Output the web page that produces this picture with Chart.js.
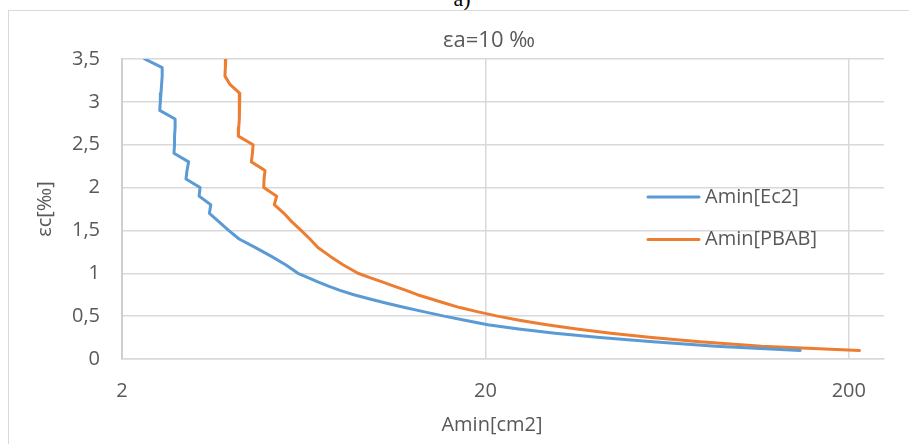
<!DOCTYPE html>
<html>
<head>
<meta charset="utf-8">
<script src="https://cdn.jsdelivr.net/npm/chart.js@4"></script>
<style>
  html, body { margin: 0; padding: 0; background: #fff; overflow: hidden; }
  #frame { position: absolute; left: 8px; top: 10px; width: 960px; height: 480px; border: 1.5px solid #d9d9d9; }
  #label-a { position: absolute; left: 0; top: -12px; width: 924px; text-align: center; font: 22px "Liberation Serif"; line-height: 22px; color: #000; }
  #chart { position: absolute; left: 0; top: 0; }
</style>
</head>
<body>
<div id="label-a">a)</div>
<div id="frame"></div>
<canvas id="chart" width="909" height="444"></canvas>
<script>
// εc values (‰), same for both series
const ecValues = [3.5, 3.4, 3.3, 3.2, 3.1, 3.0, 2.9, 2.8, 2.7, 2.6, 2.5, 2.4, 2.3, 2.2, 2.1, 2.0, 1.9, 1.8,
  1.7, 1.6, 1.5, 1.4, 1.3, 1.2, 1.1, 1.0, 0.95, 0.9, 0.85, 0.8, 0.75, 0.7, 0.65, 0.6, 0.55, 0.5,
  0.45, 0.4, 0.35, 0.3, 0.25, 0.2, 0.15, 0.1];

// Amin [cm2]
const aminEc2 = [2.31, 2.58, 2.58, 2.57, 2.56, 2.55, 2.54, 2.80, 2.80, 2.79, 2.79, 2.78, 3.05, 3.02, 3.00, 3.28, 3.26, 3.51,
  3.48, 3.70, 3.93, 4.20, 4.66, 5.14, 5.64, 6.10, 6.50, 6.92, 7.40, 7.96, 8.69, 9.62, 10.7, 12.0, 13.6, 15.4,
  17.7, 20.3, 24.7, 31.1, 41.3, 57.8, 86.1, 147];
const aminPbab = [3.86, 3.85, 3.84, 3.97, 4.22, 4.21, 4.21, 4.20, 4.19, 4.18, 4.59, 4.57, 4.54, 4.95, 4.92, 4.91, 5.33, 5.25,
  5.58, 5.87, 6.22, 6.58, 6.92, 7.47, 8.11, 8.92, 9.62, 10.4, 11.2, 12.1, 13.0, 14.2, 15.5, 17.0, 19.1, 21.6,
  25.0, 29.5, 35.7, 44.3, 57.4, 77.8, 115, 214];

const seriesNames = ["Amin[Ec2]", "Amin[PBAB]"];
const xTickValues = [2, 20, 200];
const yTickValues = [0, 0.5, 1, 1.5, 2, 2.5, 3, 3.5];
const yTickLabels = ["0", "0,5", "1", "1,5", "2", "2,5", "3", "3,5"];

const chartTitle = "εa=10 ‰";
const xTitle = "Amin[cm2]";
const yTitle = "εc[‰]";

const textColor = "#595959";
const gridColor = "#d9d9d9";
const font = "Open Sans";

function toPoints(xs) {
  return xs.map((x, i) => ({ x: x, y: ecValues[i] }));
}

// title, x title and legend drawn at fixed spots like in the excel sheet
const textPlugin = {
  id: "textPlugin",
  afterDraw(chart) {
    const ctx = chart.ctx;
    ctx.save();
    ctx.fillStyle = textColor;
    ctx.textAlign = "center";
    ctx.textBaseline = "middle";
    ctx.font = `22px "${font}"`;
    ctx.fillText(chartTitle, 489, 41);
    ctx.font = `20px "${font}"`;
    ctx.fillText(xTitle, 492, 425);

    ctx.textAlign = "left";
    chart.data.datasets.forEach((ds, i) => {
      const y = 197 + i * 42.5;
      ctx.strokeStyle = ds.borderColor;
      ctx.lineWidth = 3;
      ctx.lineCap = "round";
      ctx.beginPath();
      ctx.moveTo(648, y);
      ctx.lineTo(699, y);
      ctx.stroke();
      ctx.fillText(ds.label, 705, y);
    });
    ctx.restore();
  }
};

new Chart(document.querySelector("#chart"), {
  type: "scatter",
  data: {
    datasets: [
      {
        label: seriesNames[0],
        data: toPoints(aminEc2),
        showLine: true,
        borderColor: "#5b9bd5",
        backgroundColor: "#5b9bd5",
        borderWidth: 3,
        pointRadius: 0,
        tension: 0,
        borderCapStyle: "round",
        borderJoinStyle: "round"
      },
      {
        label: seriesNames[1],
        data: toPoints(aminPbab),
        showLine: true,
        borderColor: "#ed7d31",
        backgroundColor: "#ed7d31",
        borderWidth: 3,
        pointRadius: 0,
        tension: 0,
        borderCapStyle: "round",
        borderJoinStyle: "round"
      }
    ]
  },
  options: {
    responsive: false,
    animation: false,
    layout: {
      padding: { top: 59, right: 25, left: 0, bottom: 0 }
    },
    plugins: {
      legend: { display: false },
      title: { display: false },
      tooltip: { enabled: false }
    },
    scales: {
      x: {
        type: "logarithmic",
        min: 2,
        max: 250,
        afterBuildTicks: scale => {
          scale.ticks = xTickValues.map(v => ({ value: v }));
        },
        afterFit: scale => {
          scale.height = 85;
        },
        grid: { color: gridColor, lineWidth: 1.5, drawTicks: false },
        border: { color: gridColor, width: 1.5 },
        ticks: {
          padding: 20,
          color: textColor,
          font: { family: font, size: 20 },
          autoSkip: false,
          maxRotation: 0,
          callback: value => String(value)
        }
      },
      y: {
        min: 0,
        max: 3.5,
        afterBuildTicks: scale => {
          scale.ticks = yTickValues.map(v => ({ value: v }));
        },
        afterFit: scale => {
          scale.width = 122;
        },
        grid: { color: gridColor, lineWidth: 1.5, drawTicks: false },
        border: { color: "#cfcfcf", width: 2 },
        ticks: {
          padding: 22,
          color: textColor,
          font: { family: font, size: 20 },
          callback: (value, index) => yTickLabels[index]
        },
        title: {
          display: true,
          text: yTitle,
          color: textColor,
          font: { family: font, size: 20 },
          padding: { top: 33, bottom: 0 }
        }
      }
    }
  },
  plugins: [textPlugin]
});
</script>
</body>
</html>
